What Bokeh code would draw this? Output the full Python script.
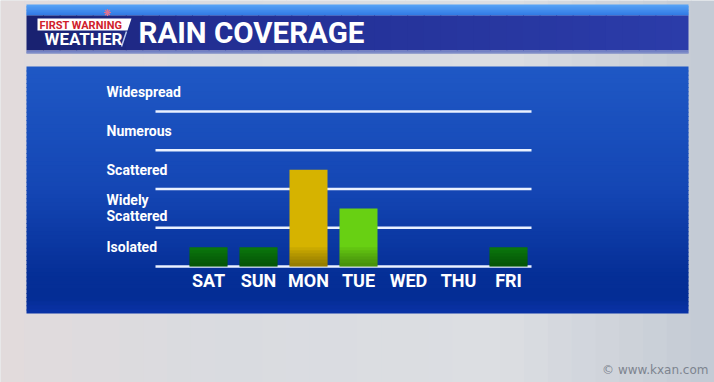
from bokeh.plotting import figure
from bokeh.models import Range1d
from bokeh.core.properties import value
from bokeh.embed import file_html
from bokeh.resources import INLINE

# ---- data ----
days = ["SAT", "SUN", "MON", "TUE", "WED", "THU", "FRI"]
coverage = [0.5, 0.5, 2.5, 1.5, 0, 0, 0.5]
bar_colors = ["#0b7d0d", "#0b7d0d", "#d6b300", "#68d013", "#0b7d0d", "#0b7d0d", "#0b7d0d"]
levels = ["Isolated", "Widely\nScattered", "Scattered", "Numerous", "Widespread"]
title = "RAIN COVERAGE"
logo_top = "FIRST WARNING"
logo_bottom = "WEATHER"
credit = "© www.kxan.com"

# ---- layout constants (pixels) ----
W, H = 714, 382
X0, DX = 208, 50        # pixel of first category, pixels per category
Y0, DY = 266, 38.75     # pixel of baseline, pixels per level
FONT = "Roboto"


def X(px):
    return (px - X0) / DX


def Y(py):
    return (Y0 - py) / DY


def hex2rgb(h):
    h = h.lstrip("#")
    return tuple(int(h[i:i + 2], 16) for i in (0, 2, 4))


def interp(stops, t):
    for (t0, c0), (t1, c1) in zip(stops[:-1], stops[1:]):
        if t0 <= t <= t1:
            f = 0 if t1 == t0 else (t - t0) / (t1 - t0)
            a, b = hex2rgb(c0), hex2rgb(c1)
            return "#%02x%02x%02x" % tuple(round(a[i] + (b[i] - a[i]) * f) for i in range(3))
    return stops[-1][1]


p = figure(width=W, height=H, x_range=Range1d(X(0), X(W)), y_range=Range1d(Y(H), Y(0)),
           output_backend="svg", toolbar_location=None, x_axis_type=None, y_axis_type=None,
           min_border=0, outline_line_color=None,
           background_fill_color="#d6d9de", border_fill_color="#d6d9de")


def vgrad(l, r, t, b, stops, n=40):
    step = (b - t) / n
    lefts, rights, tops, bots, cols = [], [], [], [], []
    for i in range(n):
        yt = t + i * step
        yb = min(b, yt + step + 1)
        lefts.append(X(l)); rights.append(X(r))
        tops.append(Y(yt)); bots.append(Y(yb))
        cols.append(interp(stops, (i + 0.5) / n))
    p.quad(left=lefts, right=rights, top=tops, bottom=bots, fill_color=cols, line_color=None)


def hgrad(l, r, t, b, stops, n=40):
    step = (r - l) / n
    lefts, rights, tops, bots, cols = [], [], [], [], []
    for i in range(n):
        xl = l + i * step
        xr = min(r, xl + step + 1)
        lefts.append(X(xl)); rights.append(X(xr))
        tops.append(Y(t)); bots.append(Y(b))
        cols.append(interp(stops, (i + 0.5) / n))
    p.quad(left=lefts, right=rights, top=tops, bottom=bots, fill_color=cols, line_color=None)


# background soft variation
hgrad(0, W, 0, H, [(0, "#e2dbdc"), (0.3, "#d9dbe0"), (0.7, "#dcdee2"), (1, "#c3cad4")], n=30)

# header
vgrad(26, 688, 4, 15, [(0, "#58a4f6"), (1, "#2f78e4")], n=8)
hgrad(26, 688, 15, 50, [(0, "#19216f"), (0.25, "#222e92"), (1, "#2b3ca9")], n=40)
vgrad(26, 688, 50, 53, [(0, "#6677c4"), (1, "#8a96c8")], n=3)

# panel
vgrad(26, 688, 66, 313, [(0, "#1f58c5"), (0.5, "#1446b4"), (0.85, "#052e96"),
                         (0.94, "#042d95"), (1, "#0a33a8")], n=60)

# logo
p.patch(x=[X(37), X(131), X(127), X(37)], y=[Y(18), Y(18), Y(30), Y(30)],
        fill_color="white", line_color=None)
p.segment(x0=[X(126)], y0=[Y(31)], x1=[X(121)], y1=[Y(46)], line_color="#b8c8f0", line_width=1.5)
p.scatter(x=[X(107)], y=[Y(12)], marker="asterisk", size=7, line_color="#e07090", line_width=1.2)
p.text(x=[X(39)], y=[Y(25)], text=[logo_top], text_font=value(FONT), text_font_style="bold",
       text_font_size="11px", text_color="#d0202c", text_align="left", text_baseline="middle")
p.text(x=[X(44)], y=[Y(38)], text=[logo_bottom], text_font=value(FONT), text_font_style="bold",
       text_font_size="17px", text_color="white", text_align="left", text_baseline="middle")

# title
p.text(x=[X(138)], y=[Y(32)], text=[title], text_font=value(FONT), text_font_style="bold",
       text_font_size="29.5px", text_color="white", text_align="left", text_baseline="middle")

# grid lines (one per level boundary)
lv = list(range(len(levels)))
p.segment(x0=[X(155)] * len(lv), x1=[X(531)] * len(lv), y0=lv, y1=lv,
          line_color="#eaf1ff", line_width=2.5)

# bars
idx = list(range(len(days)))
p.vbar(x=idx, top=coverage, bottom=0, width=0.76, fill_color=bar_colors, line_color=None)
for h in [0.5, 0.42, 0.34, 0.26, 0.18, 0.10]:
    tops = [min(v, h) for v in coverage]
    p.vbar(x=idx, top=tops, bottom=0, width=0.76, fill_color="black", fill_alpha=0.055,
           line_color=None)

# level labels
p.text(x=[X(106)] * len(levels), y=[k + 0.5 for k in lv], text=levels,
       text_font=value(FONT), text_font_style="bold", text_font_size="14px",
       text_color="white", text_align="left", text_baseline="middle", text_line_height=1.0)

# day labels
p.text(x=idx, y=[Y(280)] * len(days), text=days, text_font=value(FONT), text_font_style="bold",
       text_font_size="18px", text_color="white", text_align="center", text_baseline="middle")

# credit
p.text(x=[X(708)], y=[Y(369)], text=[credit], text_font=value("DejaVu Sans"),
       text_font_size="12px", text_color="#7d848f", text_align="right", text_baseline="middle")

open("out.html", "w").write(file_html(p, INLINE))
